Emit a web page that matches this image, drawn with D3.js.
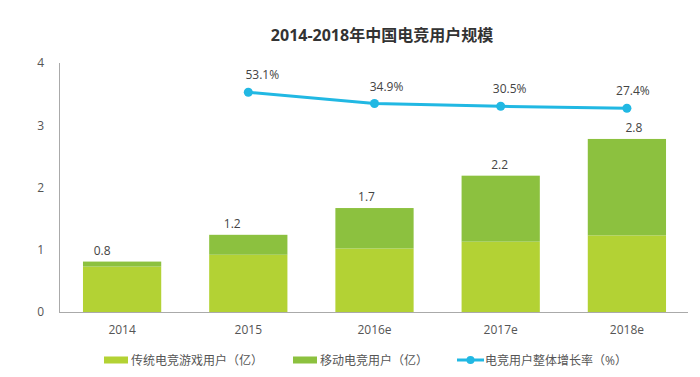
<!DOCTYPE html>
<html>
<head>
<meta charset="utf-8">
<script src="https://cdn.jsdelivr.net/npm/d3@7"></script>
<style>
  body { margin: 0; background: #fff; }
  svg text { font-family: "Open Sans", "Noto Sans CJK SC", sans-serif; }
</style>
</head>
<body>
<svg class="chart" width="700" height="377"></svg>
<script>
// chart data
var years = ['2014', '2015', '2016e', '2017e', '2018e'];
var traditional = [0.73, 0.92, 1.02, 1.13, 1.23];   // 传统电竞游戏用户（亿）
var mobile = [0.08, 0.32, 0.65, 1.06, 1.55];        // 移动电竞用户（亿）
var totalLabels = ['0.8', '1.2', '1.7', '2.2', '2.8'];
var growth = [null, 53.1, 34.9, 30.5, 27.4];        // 电竞用户整体增长率（%）
var yTicks = [0, 1, 2, 3, 4];
var seriesNames = ['传统电竞游戏用户（亿）', '移动电竞用户（亿）', '电竞用户整体增长率（%）'];
var title = '2014-2018年中国电竞用户规模';

var colors = {trad: '#b3d234', mobile: '#8cc13f', line: '#21b8e3'};

var svg = d3.select('svg.chart');
var padding = {t: 63, r: 10, b: 65, l: 59};
var svgHeight = +svg.attr('height');

// scales
var xScale = d3.scaleBand().domain(years).range([padding.l, 690])
    .paddingInner(0.38).paddingOuter(0.19);
var yScale = d3.scaleLinear().domain([0, 4]).range([svgHeight - padding.b, padding.t]);
// hidden right axis for the growth rate
var pScale = d3.scaleLinear().domain([-300, 100]).range(yScale.range());

// title
svg.append('text')
    .attr('x', 382).attr('y', 41)
    .attr('text-anchor', 'middle')
    .style('font-size', '16px').style('font-weight', 'bold')
    .style('fill', '#333')
    .text(title);

// y axis
var yAxisG = svg.append('g')
    .attr('transform', 'translate(' + padding.l + ',0)')
    .call(d3.axisLeft(yScale).tickValues(yTicks).tickSize(0).tickPadding(15).tickFormat(d3.format('d')));
yAxisG.select('.domain').attr('stroke', '#aaa').attr('d', 'M0.5,' + yScale(4) + 'V' + yScale(0));
yAxisG.selectAll('text').style('font-size', '12px').style('fill', '#555');

// bars
var stacks = years.map(function(y, i) { return {year: y, t: traditional[i], m: mobile[i], label: totalLabels[i]}; });
var barG = svg.append('g');
barG.selectAll('.trad').data(stacks).enter().append('rect')
    .attr('class', 'trad')
    .attr('x', function(d) { return xScale(d.year); })
    .attr('width', xScale.bandwidth())
    .attr('y', function(d) { return yScale(d.t); })
    .attr('height', function(d) { return yScale(0) - yScale(d.t); })
    .attr('fill', colors.trad);
barG.selectAll('.mob').data(stacks).enter().append('rect')
    .attr('class', 'mob')
    .attr('x', function(d) { return xScale(d.year); })
    .attr('width', xScale.bandwidth())
    .attr('y', function(d) { return yScale(d.t + d.m); })
    .attr('height', function(d) { return yScale(d.t) - yScale(d.t + d.m); })
    .attr('fill', colors.mobile);

// total labels, nudged like the original
var labelNudge = [-20, -16, -8, -1, 7];
barG.selectAll('.tot').data(stacks).enter().append('text')
    .attr('class', 'tot')
    .attr('x', function(d, i) { return xScale(d.year) + xScale.bandwidth() / 2 + labelNudge[i]; })
    .attr('y', function(d) { return yScale(d.t + d.m) - 7; })
    .attr('text-anchor', 'middle')
    .style('font-size', '12px').style('fill', '#444')
    .text(function(d) { return d.label; });

// x axis
var xAxisG = svg.append('g')
    .attr('transform', 'translate(0,' + yScale(0) + ')')
    .call(d3.axisBottom(xScale).tickSize(0).tickPadding(13));
xAxisG.select('.domain').attr('stroke', '#aaa').attr('d', 'M' + padding.l + ',0.5H688');
xAxisG.selectAll('text').style('font-size', '12px').style('fill', '#555');

// growth line
var pts = years.map(function(y, i) { return {year: y, v: growth[i]}; })
    .filter(function(d) { return d.v !== null; });
var cx = function(d) { return xScale(d.year) + xScale.bandwidth() / 2; };
var line = d3.line().x(cx).y(function(d) { return pScale(d.v); });
svg.append('path').datum(pts)
    .attr('d', line)
    .attr('fill', 'none').attr('stroke', colors.line).attr('stroke-width', 3);
svg.selectAll('.pt').data(pts).enter().append('circle')
    .attr('class', 'pt')
    .attr('cx', cx).attr('cy', function(d) { return pScale(d.v); })
    .attr('r', 4.5).attr('fill', colors.line);
var pctNudge = [14, 12, 9, 6];
svg.selectAll('.pct').data(pts).enter().append('text')
    .attr('class', 'pct')
    .attr('x', function(d, i) { return cx(d) + pctNudge[i]; })
    .attr('y', function(d) { return pScale(d.v) - 13; })
    .attr('text-anchor', 'middle')
    .style('font-size', '12px').style('fill', '#444')
    .text(function(d) { return d.v.toFixed(1) + '%'; });

// legend
var legendX = [104, 293, 457];
var legendY = 360;
var lg = svg.append('g');
seriesNames.forEach(function(name, i) {
    var g = lg.append('g').attr('transform', 'translate(' + legendX[i] + ',' + legendY + ')');
    if (i < 2) {
        g.append('rect').attr('x', 0).attr('y', -3.5).attr('width', 24).attr('height', 7)
            .attr('fill', i === 0 ? colors.trad : colors.mobile);
    } else {
        g.append('line').attr('x1', 0).attr('x2', 27).attr('y1', 0).attr('y2', 0)
            .attr('stroke', colors.line).attr('stroke-width', 3);
        g.append('circle').attr('cx', 13.5).attr('cy', 0).attr('r', 4).attr('fill', colors.line);
    }
    g.append('text').attr('x', i < 2 ? 27 : 28).attr('y', 4.5)
        .style('font-size', '12px').style('fill', '#555')
        .text(name);
});
</script>
</body>
</html>
